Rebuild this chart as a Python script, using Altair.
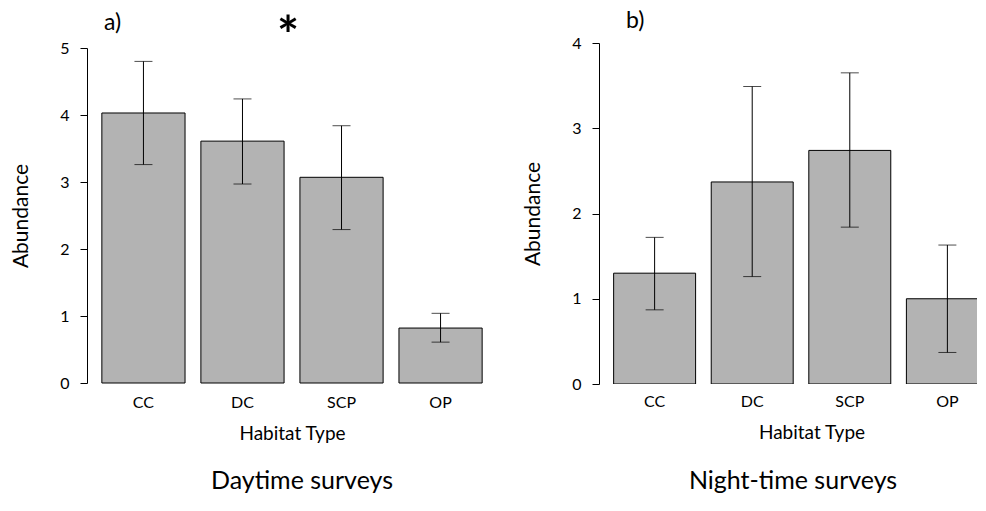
import altair as alt
import pandas as pd

categories = ["CC", "DC", "SCP", "OP"]

day_mean = [4.03, 3.61, 3.07, 0.82]
day_lower = [3.26, 2.97, 2.29, 0.61]
day_upper = [4.80, 4.24, 3.84, 1.04]

night_mean = [1.30, 2.37, 2.74, 1.00]
night_lower = [0.87, 1.26, 1.84, 0.37]
night_upper = [1.72, 3.49, 3.65, 1.63]

FONT = "Lato"
H = 341
one = pd.DataFrame({"k": [0]})


def panel(mean, lower, upper, ymax, width, xrange, yrange, tag, tag_x, tag_y,
          star, title, title_dx, manual_x, xtitle_x):
    df = pd.DataFrame({"habitat": categories, "mean": mean,
                       "lower": lower, "upper": upper})
    base = alt.Chart(df)
    if manual_x:
        xaxis = None
    else:
        xaxis = alt.Axis(title="Habitat Type", labelAngle=0, domain=False,
                         ticks=False, labelPadding=10, titlePadding=14,
                         titleX=xtitle_x)
    xscale = alt.Scale(paddingInner=0.16, paddingOuter=0.15, range=xrange)
    xenc = alt.X("habitat:N", sort=categories, axis=xaxis, scale=xscale)
    xplain = alt.X("habitat:N", sort=categories, axis=xaxis)
    yaxis = alt.Axis(title="Abundance", values=list(range(ymax + 1)),
                     grid=False, tickSize=7, labelAngle=0)
    yscale = alt.Scale(domain=[0, ymax], range=yrange, nice=False)

    bars = base.mark_bar(fill="#b3b3b3", stroke="black", strokeWidth=1,
                         clip=True).encode(
        x=xenc, y=alt.Y("mean:Q", scale=yscale, axis=yaxis))
    err = base.mark_rule(color="black", strokeWidth=1).encode(
        x=xplain, y=alt.Y("lower:Q", axis=yaxis), y2="upper:Q")
    cap_lo = base.mark_tick(color="black", size=18, thickness=1,
                            orient="horizontal").encode(
        x=xplain, y=alt.Y("lower:Q", axis=yaxis))
    cap_hi = base.mark_tick(color="black", size=18, thickness=1,
                            orient="horizontal").encode(
        x=xplain, y=alt.Y("upper:Q", axis=yaxis))

    tag_txt = alt.Chart(one).mark_text(
        text=tag, font=FONT, fontSize=23, align="left", baseline="top",
        color="black").encode(x=alt.value(tag_x), y=alt.value(tag_y))
    top_anchor = alt.Chart(one).mark_text(
        text=" ", font=FONT, fontSize=10, align="left", baseline="top",
        opacity=0).encode(x=alt.value(0), y=alt.value(-32.7))
    layers = [bars, err, cap_lo, cap_hi, tag_txt, top_anchor]
    if star:
        star_txt = alt.Chart(one).mark_text(
            text="*", font=FONT, fontSize=52, fontWeight="bold",
            align="center", baseline="top", color="black").encode(
            x=alt.value(201), y=alt.value(-30.5))
        layers.append(star_txt)
    if manual_x:
        labels = base.mark_text(font=FONT, fontSize=16, baseline="top",
                                color="black").encode(
            x=xplain, y=alt.value(H + 10), text="habitat:N")
        xtitle = alt.Chart(one).mark_text(
            text="Habitat Type", font=FONT, fontSize=19, baseline="top",
            align="center", color="black").encode(
            x=alt.value(xtitle_x), y=alt.value(H + 40))
        layers += [labels, xtitle]

    return alt.layer(*layers).properties(
        width=width, height=H,
        title=alt.TitleParams(title, orient="bottom", anchor="middle",
                              frame="group", fontSize=25, font=FONT,
                              fontWeight="normal", color="black",
                              offset=26, dx=title_dx))


left = panel(day_mean, day_lower, day_upper, 5, 410, [0, 410], [340, 5],
             "a)", 17, -30.7, True, "Daytime surveys", 10, False, 205)
right = panel(night_mean, night_lower, night_upper, 4, 378, [0, 404],
              [341, 0], "b)", 27, -32.7, False, "Night-time surveys", 5,
              True, 213)

chart = alt.hconcat(left, right, spacing=25).properties(
    padding={"left": 2, "top": 2, "right": 0, "bottom": 0}
).configure_view(stroke=None).configure_axis(
    labelFont=FONT, titleFont=FONT, labelFontSize=16, titleFontSize=19,
    titleFontWeight="normal", labelColor="black", titleColor="black",
    domainColor="black", tickColor="black", domainWidth=1, tickWidth=1
).configure_axisY(
    titleFontSize=21, labelPadding=11, titlePadding=28
)

chart.save("out.html", embed_options={"renderer": "svg", "actions": False})
